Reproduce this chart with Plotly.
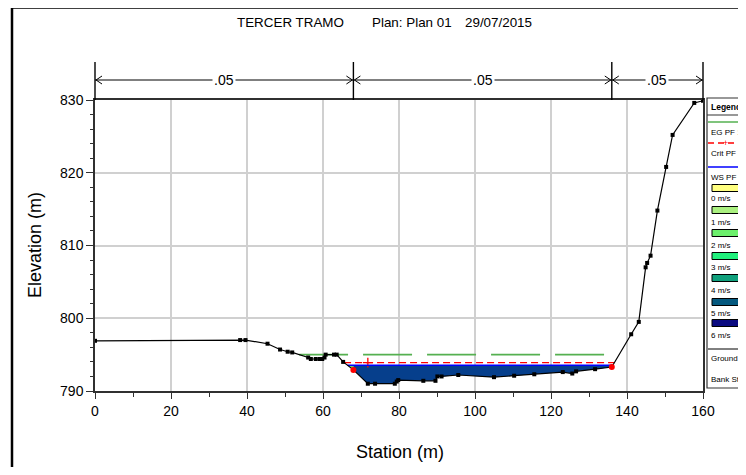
import numpy as np
import plotly.graph_objects as go

# ---------------- data ----------------
station = [0, 38.2, 39.6, 45.4, 48.7, 50.7, 51.9, 56.1, 56.8, 58.1, 59.2, 59.8, 60.4, 60.7,
           62.9, 63.6, 65.3, 68.0, 71.8, 73.7, 78.9, 79.4, 79.8, 86.4, 89.6, 90.1, 91.2, 95.6,
           105.0, 110.3, 115.6, 123.1, 125.6, 126.6, 131.6, 136.0, 141.1, 143.1, 144.9, 145.3,
           146.2, 148.0, 150.3, 152.0, 157.7, 160.0]
elevation = [796.9, 797.0, 797.0, 796.5, 795.7, 795.4, 795.3, 794.6, 794.4, 794.4, 794.4, 794.4,
             794.6, 795.0, 795.0, 795.0, 794.0, 792.9, 791.0, 791.0, 791.0, 791.3, 791.5, 791.4,
             791.4, 792.0, 792.0, 792.2, 791.9, 792.1, 792.3, 792.6, 792.4, 792.7, 793.0, 793.3,
             797.8, 799.5, 807.0, 807.6, 808.6, 814.8, 820.8, 825.2, 829.6, 829.9]
bank_stations = [68.0, 136.0]
ws_elev = 793.55      # WS PF 1
crit_elev = 793.9     # Crit PF 1
eg_elev = 795.0       # EG PF 1
crit_marker_station = 71.8
n_values = [".05", ".05", ".05"]
vel_labels = ["0 m/s", "1 m/s", "2 m/s", "3 m/s", "4 m/s", "5 m/s", "6 m/s"]
vel_colors = ["#FFFF80", "#AAF080", "#6CF06C", "#20F07C", "#10A07C", "#04587E", "#0A0A80"]
x_ticks = [0, 20, 40, 60, 80, 100, 120, 140, 160]
y_ticks = [790, 800, 810, 820, 830]
title_parts = ["TERCER TRAMO", "Plan: Plan 01", "29/07/2015"]

st = np.array(station, float)
el = np.array(elevation, float)
XMIN, XMAX, YMIN, YMAX = 0, 160, 790, 830

FONT = "Liberation Sans, Arial, sans-serif"

OFF = 8                          # page body margin
W, H = 746 - OFF, 475 - 2 * OFF  # figure size
PL, PT, PR, PB = 95, 100, 703, 391   # plot area in page pixels
PW, PH = PR - PL, PB - PT
ML, MT = PL - OFF, PT - OFF
MR, MB = W - ML - PW, H - MT - PH


def px(x):
    return (x - PL) / PW


def py(y):
    return 1 - (y - PT) / PH


def ground(x):
    return float(np.interp(x, st, el))


def crossings(level):
    xs = []
    for i in range(len(st) - 1):
        d0, d1 = el[i] - level, el[i + 1] - level
        if d0 == 0:
            xs.append(st[i])
        elif d0 * d1 < 0:
            xs.append(st[i] + (st[i + 1] - st[i]) * d0 / (d0 - d1))
    return xs


def water_poly(a, b, level):
    inner = [(s, e) for s, e in zip(st, el) if a < s < b]
    xs = [a] + [p[0] for p in inner] + [b, b, a]
    ys = [ground(a)] + [p[1] for p in inner] + [ground(b), level, level]
    return xs, ys


fig = go.Figure()

ws_x = crossings(ws_elev)
wl, wr = ws_x[0], ws_x[-1]
bl, br = bank_stations
for a, b, col in [(wl, bl, "#6CD86C"), (bl, br, "#063F8C"), (br, wr, "#063F8C")]:
    if b > a:
        xs, ys = water_poly(a, b, ws_elev)
        fig.add_trace(go.Scatter(x=xs, y=ys, fill="toself", fillcolor=col, mode="lines",
                                 line=dict(width=0, color=col), hoverinfo="skip", showlegend=False))

# EG
eg_x = crossings(eg_elev)
fig.add_trace(go.Scatter(x=[eg_x[0], eg_x[-1]], y=[eg_elev, eg_elev], mode="lines",
                         line=dict(color="#55B050", width=1.6, dash="49px,15px"), showlegend=False))
# Crit
cr_x = crossings(crit_elev)
fig.add_trace(go.Scatter(x=[cr_x[0], cr_x[-1]], y=[crit_elev, crit_elev], mode="lines",
                         line=dict(color="#FF0000", width=1.3, dash="7px,4px"), showlegend=False))
fig.add_trace(go.Scatter(x=[crit_marker_station], y=[crit_elev], mode="markers",
                         marker=dict(symbol="cross-thin-open", size=7, color="#FF0000",
                                     line=dict(color="#FF0000", width=1.3)),
                         showlegend=False))
# WS
fig.add_trace(go.Scatter(x=[wl, wr], y=[ws_elev, ws_elev], mode="lines",
                         line=dict(color="#0000FF", width=1.5), showlegend=False))
# Ground
fig.add_trace(go.Scatter(x=station, y=elevation, mode="lines+markers", cliponaxis=False,
                         line=dict(color="black", width=1.2),
                         marker=dict(symbol="square", size=4, color="black"), showlegend=False))
# Bank stations
fig.add_trace(go.Scatter(x=bank_stations, y=[ground(b) for b in bank_stations], mode="markers",
                         cliponaxis=False, marker=dict(symbol="circle", size=6, color="#FF0000"),
                         showlegend=False))

shapes = []
ann = []

# outer frame
shapes.append(dict(type="line", xref="paper", yref="paper", x0=px(11), x1=px(770), y0=py(7.5), y1=py(7.5),
                   line=dict(color="black", width=2.5)))
shapes.append(dict(type="line", xref="paper", yref="paper", x0=px(12), x1=px(12), y0=py(6.5), y1=py(480),
                   line=dict(color="black", width=2.5)))

# roughness header
bounds = [XMIN] + bank_stations + [XMAX]
yA = py(80)
dx, dy = 7 / PW, 4 / PH
for b in bounds:
    xp = (b - XMIN) / (XMAX - XMIN)
    shapes.append(dict(type="line", xref="paper", yref="paper", x0=xp, x1=xp, y0=1, y1=py(62),
                       line=dict(color="black", width=1.4)))
for i, n in enumerate(n_values):
    a = (bounds[i] - XMIN) / (XMAX - XMIN)
    b = (bounds[i + 1] - XMIN) / (XMAX - XMIN)
    shapes.append(dict(type="line", xref="paper", yref="paper", x0=a, x1=b, y0=yA, y1=yA,
                       line=dict(color="black", width=1)))
    shapes.append(dict(type="path", xref="paper", yref="paper",
                       path=f"M {a+dx},{yA+dy} L {a+1/PW},{yA} L {a+dx},{yA-dy}",
                       line=dict(color="black", width=1)))
    shapes.append(dict(type="path", xref="paper", yref="paper",
                       path=f"M {b-dx},{yA+dy} L {b-1/PW},{yA} L {b-dx},{yA-dy}",
                       line=dict(color="black", width=1)))
    ann.append(dict(x=(a + b) / 2, y=yA, xref="paper", yref="paper", text=n, showarrow=False,
                    font=dict(family=FONT, size=14, color="black"), bgcolor="white",
                    xanchor="center", yanchor="middle", borderpad=1))

# title
for t, xl in zip(title_parts, [235, 370, 463]):
    ann.append(dict(x=px(xl), y=py(22), xref="paper", yref="paper", text=t, showarrow=False,
                    xanchor="left", yanchor="middle", font=dict(family=FONT, size=13.4, color="black")))

# axis titles
ann.append(dict(x=px(35), y=py(245), xref="paper", yref="paper", text="Elevation (m)", textangle=-90,
                showarrow=False, xanchor="center", yanchor="middle",
                font=dict(family=FONT, size=18, color="black")))
ann.append(dict(x=px(400), y=py(452), xref="paper", yref="paper", text="Station (m)",
                showarrow=False, xanchor="center", yanchor="middle",
                font=dict(family=FONT, size=18, color="black")))

# legend (drawn manually)
LX0, LX1 = 707, 780
shapes.append(dict(type="rect", xref="paper", yref="paper", x0=px(LX0), x1=px(LX1), y0=py(98), y1=py(388),
                   line=dict(color="#333333", width=1.2), fillcolor="white"))
shapes.append(dict(type="line", xref="paper", yref="paper", x0=px(LX0), x1=px(LX1), y0=py(115), y1=py(115),
                   line=dict(color="#333333", width=1.2)))
LTX = 709


def ltext(t, y, bold=False, size=8):
    ann.append(dict(x=px(LTX), y=py(y), xref="paper", yref="paper",
                    text=f"<b>{t}</b>" if bold else t, showarrow=False,
                    xanchor="left", yanchor="middle", font=dict(family=FONT, size=size, color="black")))


def lline(y, color, width=1.3, dash="solid"):
    shapes.append(dict(type="line", xref="paper", yref="paper", x0=px(LX0 + 1), x1=px(LX1), y0=py(y), y1=py(y),
                       line=dict(color=color, width=width, dash=dash)))


ltext("Legend", 107, bold=True, size=8.5)
lline(122, "#55B050")
ltext("EG PF 1", 132)
lline(143, "#FF0000", dash="6px,4px")
ann.append(dict(x=px(725), y=py(143), xref="paper", yref="paper", text="+", showarrow=False,
                xanchor="center", yanchor="middle", font=dict(family=FONT, size=9, color="#FF0000")))
ltext("Crit PF 1", 153)
lline(167, "#0000FF")
ltext("WS PF 1", 177)
box_y = [188, 210, 233, 256, 278, 302, 323]
txt_y = [198, 222, 245, 267, 290, 313, 335]
for lab, col, by, ty in zip(vel_labels, vel_colors, box_y, txt_y):
    shapes.append(dict(type="rect", xref="paper", yref="paper", x0=px(712), x1=px(LX1 + 5),
                       y0=py(by - 3.5), y1=py(by + 3.5), line=dict(color="black", width=1), fillcolor=col))
    ltext(lab, ty)
lline(349, "black", width=1)
fig.add_trace(go.Scatter(x=[px(716)], y=[py(349)], xaxis="x2", yaxis="y2", mode="markers",
                         marker=dict(size=5, color="black"), showlegend=False, cliponaxis=False))
ltext("Ground", 358)
fig.add_trace(go.Scatter(x=[px(718)], y=[py(367)], xaxis="x2", yaxis="y2", mode="markers",
                         marker=dict(size=6, color="#FF0000"), showlegend=False, cliponaxis=False))
ltext("Bank Sta", 379)

fig.update_layout(
    width=W, height=H,
    margin=dict(l=ML, r=MR, t=MT, b=MB, pad=0, autoexpand=False),
    paper_bgcolor="white", plot_bgcolor="white",
    showlegend=False,
    shapes=shapes, annotations=ann,
    xaxis=dict(range=[XMIN, XMAX], tickvals=x_ticks, ticktext=[str(v) for v in x_ticks],
               showgrid=True, gridcolor="#D0D0D0", gridwidth=1.5, zeroline=False,
               showline=True, linecolor="#303030", linewidth=2, mirror=True,
               ticks="outside", ticklen=6, tickcolor="#303030", tickwidth=1.2,
               minor=dict(dtick=10, ticklen=4, tickcolor="#303030", tickwidth=1.2, showgrid=False),
               tickfont=dict(family=FONT, size=14, color="black"), fixedrange=True),
    yaxis=dict(range=[YMIN, YMAX], tickvals=y_ticks, ticktext=[str(v) for v in y_ticks],
               showgrid=True, gridcolor="#D0D0D0", gridwidth=1.5, zeroline=False,
               showline=True, linecolor="#303030", linewidth=1.5, mirror=True,
               ticks="outside", ticklen=7, tickcolor="#303030", tickwidth=1.2,
               minor=dict(dtick=2, ticklen=3, tickcolor="#303030", tickwidth=1, showgrid=False),
               tickfont=dict(family=FONT, size=14, color="black"), fixedrange=True),
    xaxis2=dict(overlaying="x", range=[0, 1], visible=False, fixedrange=True),
    yaxis2=dict(overlaying="y", range=[0, 1], visible=False, fixedrange=True),
)

fig.write_html("out.html")
